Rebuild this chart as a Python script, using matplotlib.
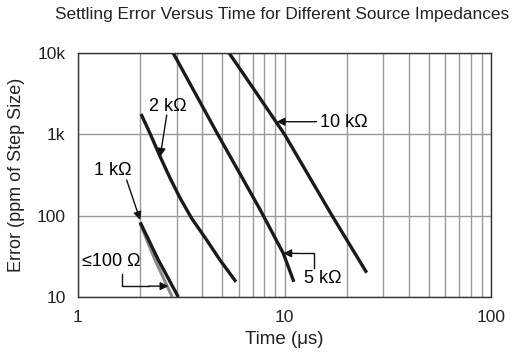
import matplotlib.pyplot as plt
import numpy as np

plt.rcParams['font.family'] = ['Liberation Sans', 'DejaVu Sans']

# curves (time in us, error in ppm)
t_100 = [2.0, 2.36, 2.86]
e_100 = [80, 28.5, 10]
t_1k = [2.0, 2.45, 3.06]
e_1k = [83, 28.5, 10]
t_2k = [2.02, 2.23, 2.50, 2.79, 3.12, 3.55, 4.20, 4.87, 5.82]
e_2k = [1778, 1032, 531, 290, 165, 92.8, 50.2, 28.5, 15.4]
t_5k = [2.89, 4.75, 7.6, 9.87, 11.1]
e_5k = [10000, 1000, 120, 34.4, 15.4]
t_10k = [5.39, 7.06, 10.0, 17.0, 25.0]
e_10k = [10000, 3680, 1000, 100, 19.9]

fig = plt.figure(figsize=(5.17, 3.53), dpi=100)
ax = fig.add_axes([78 / 517, 1 - 297 / 353, 413 / 517, 244 / 353])

ax.set_xscale('log')
ax.set_yscale('log')
ax.set_xlim(1, 100)
ax.set_ylim(10, 10000)

ax.plot(t_100, e_100, color='#8a8a8a', lw=2.2, solid_capstyle='butt')
for t, e in [(t_1k, e_1k), (t_2k, e_2k), (t_5k, e_5k), (t_10k, e_10k)]:
    ax.plot(t, e, color='#1a1a1a', lw=2.4, solid_capstyle='butt')

ax.grid(True, which='major', axis='y', color='#999999', lw=1)
ax.grid(True, which='both', axis='x', color='#999999', lw=1)
ax.set_axisbelow(True)
for s in ax.spines.values():
    s.set_color('#333333')
    s.set_linewidth(1.0)

ax.set_xticks([1, 10, 100], labels=['1', '10', '100'])
ax.set_yticks([10, 100, 1000, 10000], labels=['10', '100', '1k', '10k'])
ax.tick_params(which='both', length=0, labelsize=12.5, colors='#222222', pad=9)
ax.xaxis.set_minor_formatter(plt.NullFormatter())
ax.yaxis.set_minor_locator(plt.NullLocator())

ax.set_xlabel('Time (μs)', fontsize=13.5, color='#222222', labelpad=5)
ax.set_ylabel('Error (ppm of Step Size)', fontsize=13, color='#222222', labelpad=8)
fig.text(282 / 517, 1 - 15 / 353, 'Settling Error Versus Time for Different Source Impedances',
         ha='center', va='center', fontsize=12.4, color='#222222')

arrow = dict(arrowstyle='-|>', color='#111111', lw=1.0, mutation_scale=12, shrinkA=0, shrinkB=0)
fs = 13
ax.text(2.71, 2188, '2 kΩ', fontsize=fs, ha='center', va='center')
ax.annotate('', xy=(2.50, 531), xytext=(2.69, 1729), arrowprops=arrow)
ax.text(1.47, 364, '1 kΩ', fontsize=fs, ha='center', va='center')
ax.annotate('', xy=(2.0, 88.5), xytext=(1.72, 275), arrowprops=arrow)
ax.text(1.456, 27.2, '≤100 Ω', fontsize=fs, ha='center', va='center')
ax.plot([1.628, 1.628, 2.2], [19.0, 13.6, 13.6], color='#111111', lw=1.0)
ax.annotate('', xy=(2.74, 13.6), xytext=(2.2, 13.6), arrowprops=arrow)
ax.text(19.4, 1390, '10 kΩ', fontsize=fs, ha='center', va='center')
ax.annotate('', xy=(9.17, 1430), xytext=(14.3, 1430), arrowprops=arrow)
ax.text(15.3, 17.0, '5 kΩ', fontsize=fs, ha='center', va='center')
ax.plot([13.9, 13.9, 11.5], [22.9, 34.4, 34.4], color='#111111', lw=1.0)
ax.annotate('', xy=(9.87, 34.4), xytext=(11.5, 34.4), arrowprops=arrow)

fig.savefig('out.png', dpi=100)
